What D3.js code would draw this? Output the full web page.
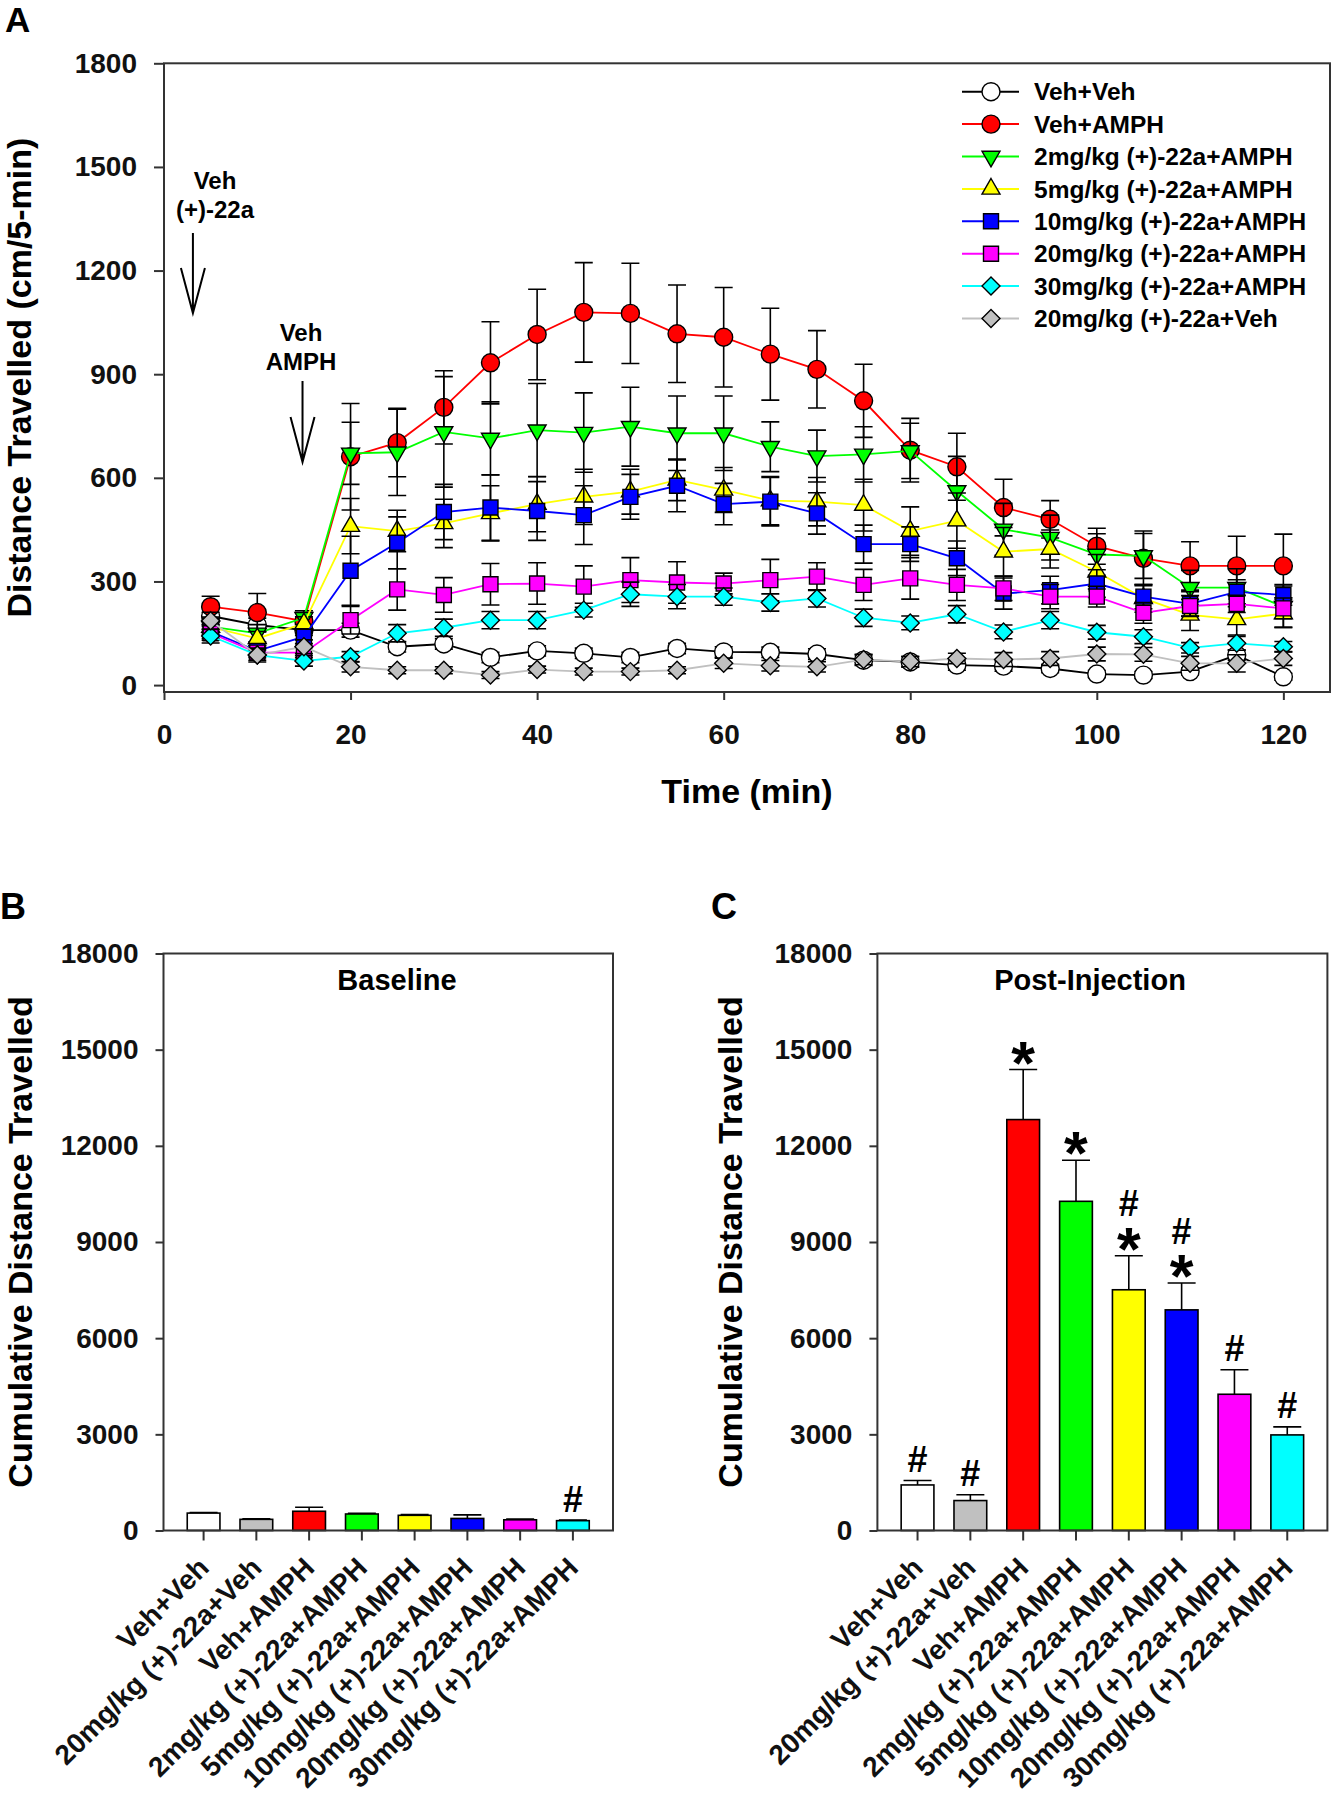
<!DOCTYPE html>
<html><head><meta charset="utf-8">
<script src="https://cdn.jsdelivr.net/npm/d3@7"></script>
<style>
body{margin:0;background:#fff}
svg{display:block}
text{font-family:"Liberation Sans",Arial,Helvetica,sans-serif;}
</style>
</head><body>
<svg id="c" width="1333" height="1800"></svg>
<script>
// ---------------- DATA ----------------
const times = [5,10,15,20,25,30,35,40,45,50,55,60,65,70,75,80,85,90,95,100,105,110,115,120];
const seriesLabels = ["Veh+Veh","Veh+AMPH","2mg/kg (+)-22a+AMPH","5mg/kg (+)-22a+AMPH","10mg/kg (+)-22a+AMPH","20mg/kg (+)-22a+AMPH","30mg/kg (+)-22a+AMPH","20mg/kg (+)-22a+Veh"];
const vehVeh    = [200,174,159,159,111,119,80,99,92,80,106,96,95,90,72,67,58,55,48,32,29,39,87,24];
const vehVehSem = [25,20,15,20,15,15,15,15,15,15,15,15,15,15,15,15,15,15,12,10,10,10,15,10];
const vehAmph    = [227,210,185,661,702,804,933,1015,1079,1076,1017,1007,958,914,823,680,632,514,480,402,367,345,345,345];
const vehAmphSem = [30,55,25,154,99,106,119,131,144,145,141,144,133,112,106,92,97,82,54,52,79,70,86,92];
const d2Amph    = [169,150,195,671,674,733,714,738,731,748,729,729,690,663,668,678,562,451,427,378,374,282,282,227];
const d2AmphSem = [25,25,20,90,125,160,106,135,115,114,108,108,72,75,80,80,100,75,65,60,65,50,55,60];
const d5Amph    = [168,135,178,460,446,468,497,524,545,560,594,565,534,531,521,446,476,386,394,328,251,203,190,207];
const d5AmphSem = [20,20,20,80,60,70,80,80,80,65,60,65,70,70,75,70,80,70,55,50,40,45,45,40];
const d10Amph    = [155,99,140,331,412,501,514,504,492,545,577,524,531,497,408,408,367,265,275,294,256,235,270,261];
const d10AmphSem = [20,15,20,100,75,80,95,85,85,65,75,60,70,60,55,50,50,45,40,40,35,35,35,30];
const d20Amph    = [150,94,94,188,277,261,292,294,285,304,297,294,304,314,290,309,290,280,256,256,209,229,235,222];
const d20AmphSem = [20,15,15,40,60,50,60,60,60,65,60,30,60,40,45,60,45,35,35,30,30,30,25,30];
const d30Amph    = [142,87,70,82,150,166,188,188,217,263,256,256,239,251,195,180,205,154,188,153,140,108,121,111];
const d30AmphSem = [20,15,15,15,25,25,25,25,20,35,35,25,25,25,25,20,25,20,25,20,20,15,20,15];
const d20Veh    = [186,87,111,53,43,43,29,45,39,39,43,63,56,53,74,68,77,74,77,90,89,63,63,77];
const d20VehSem = [25,20,20,15,10,10,10,10,10,10,10,15,15,15,15,15,15,20,20,20,20,20,25,20];
const xTicksA = [0,20,40,60,80,100,120];
const yTicksA = [0,300,600,900,1200,1500,1800];

const barCategories = ["Veh+Veh","20mg/kg (+)-22a+Veh","Veh+AMPH","2mg/kg (+)-22a+AMPH","5mg/kg (+)-22a+AMPH","10mg/kg (+)-22a+AMPH","20mg/kg (+)-22a+AMPH","30mg/kg (+)-22a+AMPH"];
const baselineMeans = [543,348,600,515,474,376,334,307];
const baselineSem   = [15,15,125,25,20,110,20,20];
const baselineMarks = [[],[],[],[],[],[],[],["#"]];
const postMeans = [1421,934,12819,10269,7510,6883,4250,2982];
const postSem   = [140,180,1560,1280,1060,836,766,251];
const postMarks = [["#"],["#"],["*"],["*"],["#","*"],["#","*"],["#"],["#"]];
const yTicksBar = [0,3000,6000,9000,12000,15000,18000];

// ---------------- STYLES ----------------
const seriesValues = [vehVeh,vehAmph,d2Amph,d5Amph,d10Amph,d20Amph,d30Amph,d20Veh];
const seriesSems = [vehVehSem,vehAmphSem,d2AmphSem,d5AmphSem,d10AmphSem,d20AmphSem,d30AmphSem,d20VehSem];
const seriesStyle = [
  {fill:"#ffffff", line:"#000000", shape:"circle"},
  {fill:"#ff0000", line:"#ff0000", shape:"circle"},
  {fill:"#00ff00", line:"#00ff00", shape:"tridown"},
  {fill:"#ffff00", line:"#ffff00", shape:"triup"},
  {fill:"#0000ff", line:"#0000ff", shape:"square"},
  {fill:"#ff00ff", line:"#ff00ff", shape:"square"},
  {fill:"#00ffff", line:"#00ffff", shape:"diamond"},
  {fill:"#c0c0c0", line:"#c0c0c0", shape:"diamond"}
];
const barColors = ["#ffffff","#c0c0c0","#ff0000","#00ff00","#ffff00","#0000ff","#ff00ff","#00ffff"];

const svg = d3.select("#c");
const INK = "#000";
const FRAME = "#333";
const fmt = d3.format("d");

function symPath(shape){
  if (shape==="circle") return d3.symbol(d3.symbolCircle, 254)();
  if (shape==="square") return d3.symbol(d3.symbolSquare, 225)();
  if (shape==="diamond") return d3.symbol(d3.symbolSquare, 162)();
  return d3.symbol(d3.symbolTriangle, 140)();
}
function symRot(shape){
  if (shape==="diamond") return " rotate(45)";
  if (shape==="tridown") return " rotate(180)";
  return "";
}

// ---------------- PANEL A ----------------
const xA = d3.scaleLinear().domain([0,125]).range([164,1330]);
const yA = d3.scaleLinear().domain([-20,1800]).range([692,63.3]);
const gA = svg.append("g");

svg.append("text").attr("x",5).attr("y",32).attr("font-size",35).attr("font-weight","bold").text("A");

const axL = gA.append("g").attr("transform",`translate(${xA.range()[0]},0)`)
  .call(d3.axisLeft(yA).tickValues(yTicksA).tickFormat(fmt).tickSize(10).tickPadding(17).tickSizeOuter(0));
const axB = gA.append("g").attr("transform",`translate(0,${yA.range()[0]})`)
  .call(d3.axisBottom(xA).tickValues(xTicksA).tickFormat(fmt).tickSize(8).tickPadding(24).tickSizeOuter(0));
[axL,axB].forEach(a=>{
  a.select(".domain").remove();
  a.selectAll("line").attr("stroke",FRAME).attr("stroke-width",2);
  a.selectAll("text").attr("font-size",28).attr("font-weight","bold").attr("fill","#111");
});
gA.append("rect").attr("x",xA.range()[0]).attr("y",yA.range()[1])
  .attr("width",xA.range()[1]-xA.range()[0]).attr("height",yA.range()[0]-yA.range()[1])
  .attr("fill","none").attr("stroke",FRAME).attr("stroke-width",2);

gA.append("text").attr("x",(xA.range()[0]+xA.range()[1])/2).attr("y",803)
  .attr("text-anchor","middle").attr("font-size",34).attr("font-weight","bold").text("Time (min)");
gA.append("text").attr("transform",`translate(31,${(yA.range()[0]+yA.range()[1])/2}) rotate(-90)`)
  .attr("text-anchor","middle").attr("font-size",34).attr("font-weight","bold").text("Distance Travelled (cm/5-min)");

seriesValues.forEach((vals, si)=>{
  const st = seriesStyle[si], sem = seriesSems[si];
  const g = gA.append("g");
  vals.forEach((v,i)=>{
    const x = xA(times[i]), yt = yA(v+sem[i]), yb = yA(v-sem[i]);
    g.append("path").attr("d",`M${x},${yt}V${yb}M${x-9},${yt}H${x+9}M${x-9},${yb}H${x+9}`)
      .attr("stroke",INK).attr("stroke-width",1.6).attr("fill","none");
  });
  g.append("path").datum(vals)
    .attr("d", d3.line().x((d,i)=>xA(times[i])).y(d=>yA(d)))
    .attr("fill","none").attr("stroke",st.line).attr("stroke-width",1.8);
  g.selectAll("path.m").data(vals).join("path").attr("class","m")
    .attr("d", symPath(st.shape))
    .attr("transform",(d,i)=>`translate(${xA(times[i])},${yA(d)})${symRot(st.shape)}`)
    .attr("fill",st.fill).attr("stroke",INK).attr("stroke-width",1.4);
});

function arrow(x,y0,y1){
  gA.append("path").attr("d",`M${x},${y0}V${y1}M${x-12},${y1-45}L${x},${y1}L${x+12},${y1-45}`)
    .attr("stroke","#000").attr("stroke-width",2).attr("fill","none");
}
function note(x,y,lines){
  const t = gA.append("text").attr("text-anchor","middle").attr("font-size",24).attr("font-weight","bold");
  lines.forEach((s,i)=>t.append("tspan").attr("x",x).attr("y",y+i*29).text(s));
}
note(215,189,["Veh","(+)-22a"]);
arrow(xA(3.1),233,313);
note(301,341,["Veh","AMPH"]);
arrow(xA(14.85),381,462);

const lg = gA.append("g");
seriesLabels.forEach((lab,i)=>{
  const st = seriesStyle[i];
  const y = 91.7 + i*32.4;
  lg.append("line").attr("x1",962).attr("x2",1019).attr("y1",y).attr("y2",y).attr("stroke",st.line).attr("stroke-width",2);
  lg.append("path").attr("d",symPath(st.shape)).attr("transform",`translate(991,${y})${symRot(st.shape)}`)
    .attr("fill",st.fill).attr("stroke",INK).attr("stroke-width",1.4);
  lg.append("text").attr("x",1034).attr("y",y+8.6).attr("font-size",24.5).attr("font-weight","bold").text(lab);
});

// ---------------- PANELS B & C ----------------
function barPanel(opt){
  const g = svg.append("g");
  const x = d3.scaleBand().domain(barCategories).range([opt.x0,opt.x1]).paddingInner(0.38).paddingOuter(0.45);
  const y = d3.scaleLinear().domain([0,18000]).range([1530.5,953.5]);
  const ay = g.append("g").attr("transform",`translate(${opt.x0},0)`)
    .call(d3.axisLeft(y).tickValues(yTicksBar).tickFormat(fmt).tickSize(8).tickPadding(17).tickSizeOuter(0));
  ay.select(".domain").remove();
  ay.selectAll("line").attr("stroke",FRAME).attr("stroke-width",2);
  ay.selectAll("text").attr("font-size",28).attr("font-weight","bold").attr("fill","#111");
  const ax = g.append("g").attr("transform",`translate(0,${y(0)})`)
    .call(d3.axisBottom(x).tickSize(10).tickSizeOuter(0));
  ax.select(".domain").remove();
  ax.selectAll("line").attr("stroke",FRAME).attr("stroke-width",2);
  ax.selectAll("text").attr("x",null).attr("y",null).attr("dy",null)
    .attr("transform","translate(7,39) rotate(-45)").style("text-anchor","end")
    .attr("font-size",28).attr("font-weight","bold").attr("fill","#111");
  barCategories.forEach((c,i)=>{
    const m = opt.means[i], e = opt.sems[i];
    const cx = x(c)+x.bandwidth()/2;
    const yt = y(m+e);
    g.append("path").attr("d",`M${cx},${y(m)}V${yt}M${cx-14},${yt}H${cx+14}`).attr("stroke",INK).attr("stroke-width",1.6);
    g.append("rect").attr("x",x(c)).attr("y",y(m)).attr("width",x.bandwidth()).attr("height",y(0)-y(m))
      .attr("fill",barColors[i]).attr("stroke",INK).attr("stroke-width",1.6);
    const marks = opt.marks[i].slice().reverse();
    if (marks.length){
      const t = g.append("text").attr("text-anchor","middle").attr("font-weight","bold");
      let cyPrev = null;
      marks.forEach((mk,k)=>{
        const cy = (k===0) ? yt - (mk==="*"?19:21) : cyPrev - 33;
        cyPrev = cy;
        if (mk==="*") t.append("tspan").attr("x",cx).attr("y",cy+33).attr("font-size",61).text("*");
        else t.append("tspan").attr("x",cx).attr("y",cy+12.6).attr("font-size",36).text("#");
      });
    }
  });
  g.append("rect").attr("x",opt.x0).attr("y",y.range()[1]).attr("width",opt.x1-opt.x0).attr("height",y.range()[0]-y.range()[1])
    .attr("fill","none").attr("stroke",FRAME).attr("stroke-width",2);
  g.append("text").attr("x",opt.titleX).attr("y",990).attr("text-anchor","middle")
    .attr("font-size",29).attr("font-weight","bold").text(opt.title);
  g.append("text").attr("transform",`translate(${opt.labX},${(y.range()[0]+y.range()[1])/2}) rotate(-90)`)
    .attr("text-anchor","middle").attr("font-size",34).attr("font-weight","bold").text("Cumulative Distance Travelled");
  g.append("text").attr("x",opt.panelX).attr("y",919).attr("font-size",36).attr("font-weight","bold").text(opt.panel);
}
barPanel({x0:163.5,x1:613,means:baselineMeans,sems:baselineSem,marks:baselineMarks,title:"Baseline",titleX:397,labX:32,panel:"B",panelX:0});
barPanel({x0:877.4,x1:1327.4,means:postMeans,sems:postSem,marks:postMarks,title:"Post-Injection",titleX:1090,labX:742,panel:"C",panelX:711});
</script>
</body></html>
